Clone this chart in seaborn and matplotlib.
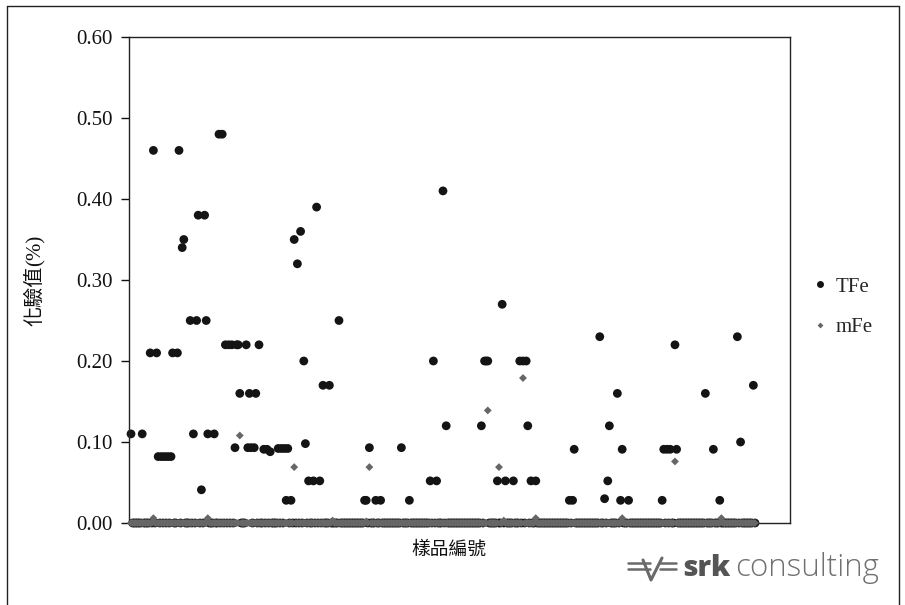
import matplotlib
matplotlib.use("Agg")
import matplotlib.pyplot as plt
import pandas as pd
import seaborn as sns
from matplotlib.lines import Line2D

# Assay results per sample, in sample order (%)
tfe = [
    0.11, 0, 0, 0, 0, 0, 0, 0.11, 0, 0, 0, 0, 0.21, 0, 0.46, 0, 0.21, 0.082, 0, 0.082,
    0, 0.082, 0, 0.082, 0, 0.082, 0.21, 0, 0, 0.21, 0.46, 0, 0.34, 0.35, 0, 0, 0, 0.25, 0, 0.11,
    0, 0.25, 0.38, 0, 0.041, 0, 0.38, 0.25, 0.11, 0, 0, 0, 0.11, 0, 0, 0.48, 0, 0.48, 0, 0.22,
    0, 0.22, 0, 0.22, 0, 0.093, 0.22, 0.22, 0.16, 0, 0, 0, 0.22, 0.093, 0.16, 0.093, 0, 0.093, 0.16, 0,
    0.22, 0, 0, 0.091, 0, 0.091, 0, 0.088, 0, 0, 0, 0, 0.092, 0, 0.092, 0, 0.092, 0.028, 0.092, 0,
    0.028, 0, 0.35, 0, 0.32, 0, 0.36, 0, 0.20, 0.098, 0, 0.052, 0, 0, 0.052, 0, 0.39, 0, 0.052, 0,
    0.17, 0, 0, 0, 0.17, 0, 0, 0, 0, 0, 0.25, 0, 0, 0, 0, 0, 0, 0, 0, 0,
    0, 0, 0, 0, 0, 0, 0.028, 0.028, 0, 0.093, 0, 0, 0, 0.028, 0, 0, 0.028, 0, 0, 0,
    0, 0, 0, 0, 0, 0, 0, 0, 0, 0.093, 0, 0, 0, 0, 0.028, 0, 0, 0, 0, 0,
    0, 0, 0, 0, 0, 0, 0, 0.052, 0, 0.20, 0, 0.052, 0, 0, 0, 0.41, 0, 0.12, 0, 0,
    0, 0, 0, 0, 0, 0, 0, 0, 0, 0, 0, 0, 0, 0, 0, 0, 0, 0, 0, 0.12,
    0, 0.20, 0.20, 0.20, 0, 0, 0, 0, 0, 0.052, 0, 0, 0.27, 0, 0.052, 0, 0, 0, 0, 0.052,
    0, 0, 0, 0.20, 0, 0.20, 0, 0.20, 0.12, 0, 0.052, 0, 0, 0.052, 0, 0, 0, 0, 0, 0,
    0, 0, 0, 0, 0, 0, 0, 0, 0, 0, 0, 0, 0, 0, 0.028, 0, 0.028, 0.091, 0, 0,
    0, 0, 0, 0, 0, 0, 0, 0, 0, 0, 0, 0, 0, 0.23, 0, 0, 0.03, 0, 0.052, 0.12,
    0, 0, 0, 0, 0.16, 0, 0.028, 0.091, 0, 0, 0, 0.028, 0, 0, 0, 0, 0, 0, 0, 0,
    0, 0, 0, 0, 0, 0, 0, 0, 0, 0, 0, 0, 0.028, 0.091, 0, 0.091, 0, 0.091, 0, 0,
    0.22, 0.091, 0, 0, 0, 0, 0, 0, 0, 0, 0, 0, 0, 0, 0, 0, 0, 0, 0, 0.16,
    0, 0, 0, 0, 0.091, 0, 0, 0, 0.028, 0, 0, 0, 0, 0, 0, 0, 0, 0, 0, 0.23,
    0, 0.10, 0, 0, 0, 0, 0, 0, 0, 0.17, 0,
]

mfe = [
    0, 0, 0, 0, 0, 0, 0, 0, 0, 0, 0, 0, 0, 0, 0.006, 0, 0, 0, 0, 0,
    0, 0, 0, 0, 0, 0, 0, 0, 0, 0, 0, 0, 0, 0, 0, 0, 0, 0, 0, 0,
    0, 0, 0, 0, 0, 0, 0, 0, 0.006, 0, 0, 0, 0, 0, 0, 0, 0, 0, 0, 0,
    0, 0, 0, 0, 0, 0, 0, 0, 0.108, 0, 0, 0, 0, 0, 0, 0, 0, 0, 0, 0,
    0, 0, 0, 0, 0, 0, 0, 0, 0, 0, 0, 0, 0, 0, 0, 0, 0, 0, 0, 0,
    0, 0, 0.069, 0, 0, 0, 0, 0, 0, 0, 0, 0, 0, 0, 0, 0, 0, 0, 0, 0,
    0, 0, 0, 0, 0, 0, 0.003, 0, 0, 0, 0, 0, 0, 0, 0, 0, 0, 0, 0, 0,
    0, 0, 0, 0, 0, 0, 0, 0.002, 0, 0.069, 0, 0, 0, 0, 0, 0, 0, 0, 0, 0,
    0, 0, 0, 0, 0, 0, 0, 0, 0, 0, 0, 0, 0, 0, 0, 0, 0, 0, 0, 0,
    0, 0, 0, 0, 0, 0, 0, 0, 0, 0, 0, 0, 0, 0, 0, 0, 0, 0, 0, 0,
    0, 0, 0, 0, 0, 0, 0, 0, 0, 0, 0, 0, 0, 0, 0, 0, 0, 0, 0, 0,
    0, 0, 0, 0.139, 0, 0, 0, 0, 0, 0, 0.069, 0, 0, 0.003, 0, 0, 0, 0, 0, 0,
    0, 0, 0, 0, 0, 0.179, 0, 0, 0, 0, 0, 0, 0, 0.006, 0, 0, 0, 0, 0, 0,
    0, 0, 0, 0, 0, 0, 0, 0, 0, 0, 0, 0, 0, 0, 0, 0, 0, 0, 0, 0,
    0, 0, 0, 0, 0, 0, 0, 0, 0, 0, 0, 0, 0, 0, 0, 0, 0, 0, 0, 0,
    0, 0, 0, 0, 0, 0, 0, 0.006, 0, 0, 0, 0, 0, 0, 0, 0, 0, 0, 0, 0,
    0, 0, 0, 0, 0, 0, 0, 0, 0, 0, 0, 0, 0, 0, 0, 0, 0, 0, 0, 0,
    0.076, 0, 0, 0, 0, 0, 0, 0, 0, 0, 0, 0, 0, 0, 0, 0, 0, 0, 0, 0,
    0, 0, 0, 0, 0, 0, 0, 0, 0, 0.006, 0, 0, 0, 0, 0, 0, 0, 0, 0, 0,
    0, 0, 0, 0, 0, 0, 0, 0, 0, 0, 0,
]

sample_no = list(range(1, len(tfe) + 1))
series_names = ["TFe", "mFe"]
y_ticks = [0.0, 0.1, 0.2, 0.3, 0.4, 0.5, 0.6]
y_tick_labels = ["0.00", "0.10", "0.20", "0.30", "0.40", "0.50", "0.60"]

sns.set_theme(style="white")
plt.rcParams["font.family"] = ["Liberation Serif", "DejaVu Serif"]

W, H = 905, 605
fig = plt.figure(figsize=(W / 100, H / 100), dpi=100)
fig.patch.set_facecolor("white")

# plot area in pixel coordinates: x 129..790, y 37..523
ax = fig.add_axes([129 / W, 1 - 523 / H, (790 - 129) / W, (523 - 37) / H])

df_t = pd.DataFrame({"sample": sample_no, "value": tfe})
df_m = pd.DataFrame({"sample": sample_no, "value": mfe})

TFE_COLOR = "#141414"
MFE_COLOR = "#666666"

sns.scatterplot(data=df_t, x="sample", y="value", ax=ax, color=TFE_COLOR,
                marker="o", s=40, linewidth=0, edgecolor="none", zorder=2,
                clip_on=False)
sns.scatterplot(data=df_m, x="sample", y="value", ax=ax, color=MFE_COLOR,
                marker="D", s=16, linewidth=0, edgecolor="none", zorder=3,
                clip_on=False)

ax.set_xlim(-0.25, 412.9)
ax.set_ylim(0, 0.6)
ax.set_xticks([])
ax.set_yticks(y_ticks)
ax.set_yticklabels(y_tick_labels)
ax.tick_params(axis="y", which="both", left=True, direction="out",
               length=5.5, width=1.0, pad=6, labelsize=15, colors="#111111")
ax.set_xlabel("")
ax.set_ylabel("")
for sp in ax.spines.values():
    sp.set_visible(True)
    sp.set_color("#222222")
    sp.set_linewidth(1.0)
ax.grid(False)

# axis titles
cjk = ["Noto Sans CJK TC", "DejaVu Sans"]
fig.text(449 / W, 1 - 549 / H, "樣品編號", family=cjk, fontsize=13.5,
         ha="center", va="center", color="#111111")

# vertical title: CJK part in sans, unit part in serif
ylab_x = 35 / W
ylab_bottom = 1 - 326 / H
t1 = fig.text(ylab_x, ylab_bottom, "化驗值", family=cjk, fontsize=14.5,
              rotation=90, ha="center", va="bottom", color="#111111")
fig.canvas.draw()
ext = t1.get_window_extent(renderer=fig.canvas.get_renderer())
top_frac = ext.y1 / H
fig.text(ylab_x + 1 / W, top_frac, "(%)", family=["Liberation Serif"],
         fontsize=15, rotation=90, ha="center", va="bottom", color="#111111")

# legend
handles = [
    Line2D([], [], ls="", marker="o", markersize=5.0, color=TFE_COLOR,
           markeredgewidth=0),
    Line2D([], [], ls="", marker="D", markersize=3.0, color=MFE_COLOR,
           markeredgewidth=0),
]
fig.legend(handles, series_names, loc="center left",
           bbox_to_anchor=(812 / W, 1 - 307 / H), frameon=False,
           prop={"family": ["Liberation Serif"], "size": 15},
           handlelength=0.8, handletextpad=0.35, labelspacing=1.0,
           borderpad=0, borderaxespad=0)

# company mark
grey = "#6a6a6a"
for y in (563, 569):
    fig.add_artist(Line2D([628 / W, 650 / W], [1 - y / H, 1 - y / H],
                          transform=fig.transFigure, color=grey, lw=1.8))
    fig.add_artist(Line2D([660 / W, 676 / W], [1 - y / H, 1 - y / H],
                          transform=fig.transFigure, color=grey, lw=1.8))
fig.add_artist(Line2D([643 / W, 651 / W, 662 / W],
                      [1 - 560 / H, 1 - 580 / H, 1 - 558 / H],
                      transform=fig.transFigure, color=grey, lw=2.2))
fig.text(682 / W, 1 - 568 / H, "srk", family=["Open Sans", "DejaVu Sans"],
         fontsize=21, fontweight="heavy", color="#555555", ha="left", va="center")
fig.text(735 / W, 1 - 568 / H, "consulting", family=["Open Sans", "DejaVu Sans"],
         fontsize=22.5, fontweight="light", color="#707070", ha="left", va="center")

# outer frame
frame_kw = dict(transform=fig.transFigure, color="#222222", lw=1.0)
fig.add_artist(Line2D([7 / W, 7 / W], [0, 1 - 6 / H], **frame_kw))
fig.add_artist(Line2D([7 / W, 899 / W], [1 - 6 / H, 1 - 6 / H], **frame_kw))
fig.add_artist(Line2D([899 / W, 899 / W], [1 - 6 / H, 0], **frame_kw))

fig.savefig("out.png", dpi=100)
